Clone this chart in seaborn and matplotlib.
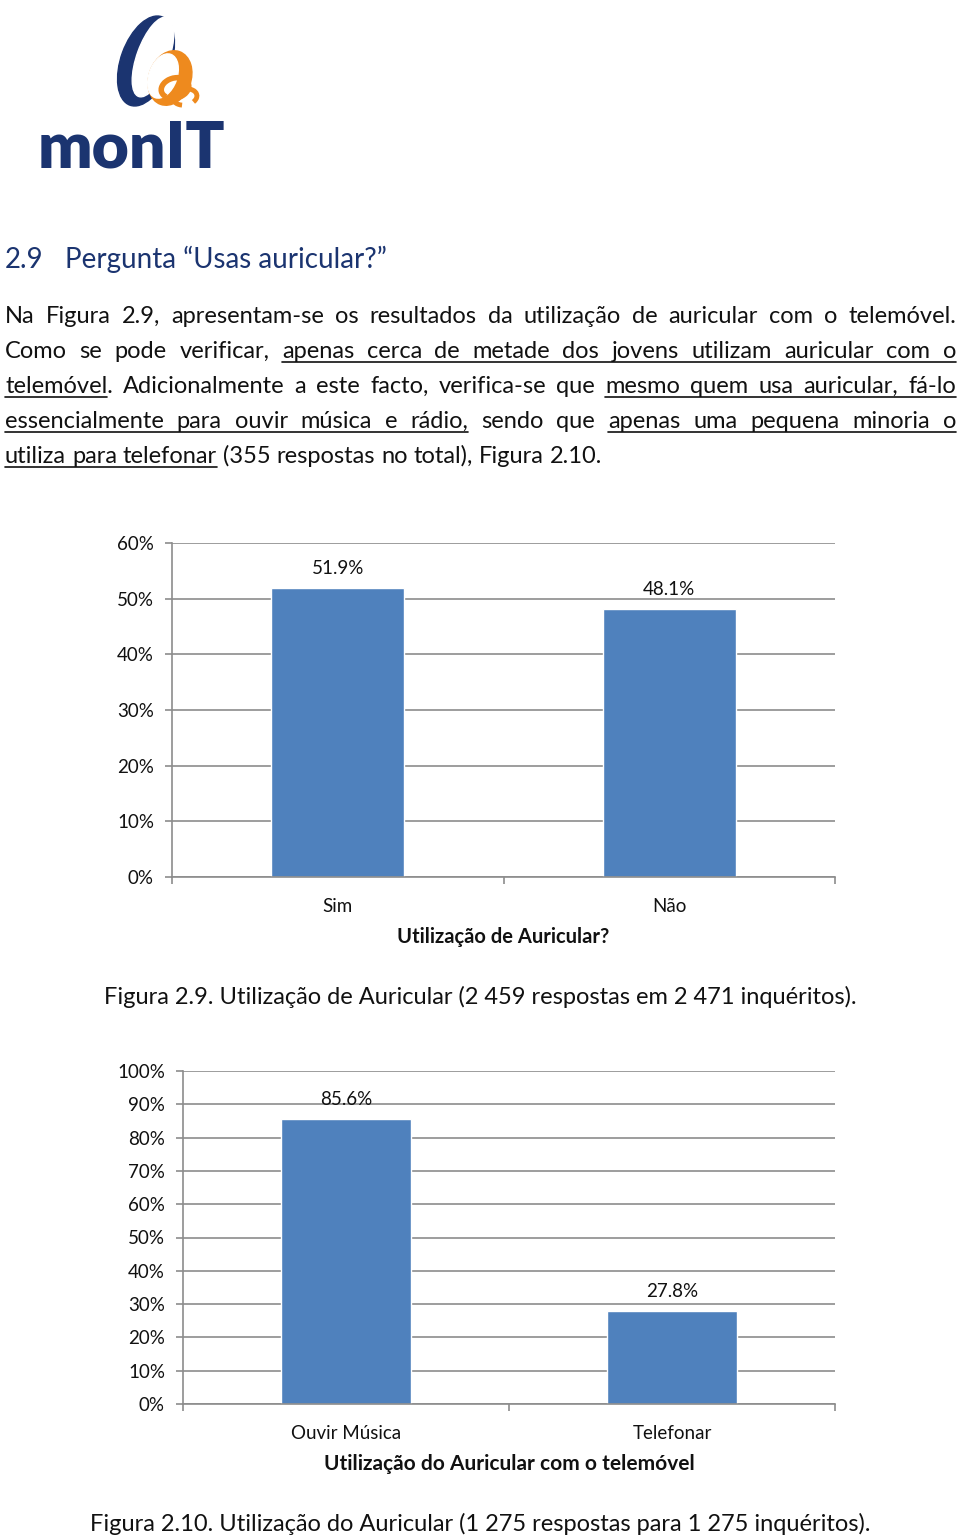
import matplotlib
matplotlib.use("Agg")
import matplotlib.pyplot as plt
import seaborn as sns
import pandas as pd
from matplotlib.patches import Ellipse, Arc
from matplotlib.lines import Line2D

sns.set_theme(style="white")
plt.rcParams['font.family'] = ['Lato', 'DejaVu Sans']

# ---------------- data ----------------
cats1 = ["Sim", "Não"]
vals1 = [51.9, 48.1]
yticks1 = [0, 10, 20, 30, 40, 50, 60]
xlabel1 = "Utilização de Auricular?"
caption1 = "Figura 2.9. Utilização de Auricular (2 459 respostas em 2 471 inquéritos)."

cats2 = ["Ouvir Música", "Telefonar"]
vals2 = [85.6, 27.8]
yticks2 = [0, 10, 20, 30, 40, 50, 60, 70, 80, 90, 100]
xlabel2 = "Utilização do Auricular com o telemóvel"
caption2 = "Figura 2.10. Utilização do Auricular (1 275 respostas para 1 275 inquéritos)."

heading_num = "2.9"
heading_txt = "Pergunta “Usas auricular?”"
body_lines = [
    "Na Figura 2.9, apresentam-se os resultados da utilização de auricular com o telemóvel.",
    "Como se pode verificar, [apenas cerca de metade dos jovens utilizam auricular com o]",
    "[telemóvel]. Adicionalmente a este facto, verifica-se que [mesmo quem usa auricular, fá-lo]",
    "[essencialmente para ouvir música e rádio,] sendo que [apenas uma pequena minoria o]",
    "[utiliza para telefonar] (355 respostas no total), Figura 2.10.",
]

BAR = "#4F81BD"
GRID = "#8C8C8C"
NAVY = "#1B3470"
ORANGE = "#EE8A1E"
TXT = "#111111"

W, H = 960, 1536
fig = plt.figure(figsize=(9.6, 15.36), dpi=100)
fig.patch.set_facecolor("white")
renderer = fig.canvas.get_renderer()


def fx(x):
    return x / W


def fy(y):
    return 1 - y / H


def measure(s, **kw):
    if s == "":
        return 0.0
    t = fig.text(0, 0, s, **kw)
    w = t.get_window_extent(renderer).width
    t.remove()
    return w


# ---------------- logo ----------------
lax = fig.add_axes([fx(20), fy(190), 230 / W, 190 / H])
lax.set_xlim(20, 250)
lax.set_ylim(190, 0)
lax.axis("off")
lax.add_patch(Ellipse((146, 61), 50, 94, angle=20, color=NAVY))
lax.add_patch(Ellipse((153, 57), 32, 84, angle=20, color="white"))
lax.add_patch(Ellipse((170, 78), 42, 56, angle=20, color=ORANGE))
lax.add_patch(Ellipse((163, 76), 28, 46, angle=20, color="white"))
lax.add_patch(Arc((175, 88), 28, 20, angle=-15, theta1=150, theta2=470, color=ORANGE, lw=4))
lax.add_patch(Arc((185, 97), 24, 16, angle=-10, theta1=120, theta2=400, color=ORANGE, lw=3.5))
logo_kw = dict(fontsize=60, fontweight="heavy", color=NAVY, family=["Lato", "DejaVu Sans"])
lw_ = measure("monIT", **logo_kw)
logo_kw["fontsize"] = 60 * 188 / lw_
fig.text(fx(38), fy(168), "monIT", ha="left", va="baseline", **logo_kw)

# ---------------- heading ----------------
fig.text(fx(5), fy(268), heading_num, fontsize=20, color=NAVY, va="baseline")
fig.text(fx(65), fy(268), heading_txt, fontsize=20, color=NAVY, va="baseline")

# ---------------- body text (justified) ----------------
body_kw = dict(fontsize=17, color=TXT)
LEFT, RIGHT = 5, 956
base = 323
space_w = measure("a a", **body_kw) - measure("aa", **body_kw)
for li, line in enumerate(body_lines):
    yb = base + li * 35
    tokens = line.split(" ")
    clean = [t.replace("[", "").replace("]", "") for t in tokens]
    widths = [measure(c, **body_kw) for c in clean]
    last = li == len(body_lines) - 1
    if last:
        gap = space_w
    else:
        gap = (RIGHT - LEFT - sum(widths)) / (len(tokens) - 1)
    x = LEFT
    ul_start = None
    for tok, c, w in zip(tokens, clean, widths):
        fig.text(fx(x), fy(yb), c, ha="left", va="baseline", **body_kw)
        pos = 0
        for ch in tok:
            if ch == "[":
                ul_start = x + measure(c[:pos], **body_kw)
            elif ch == "]":
                ul_end = x + measure(c[:pos], **body_kw)
                fig.add_artist(Line2D([fx(ul_start), fx(ul_end)], [fy(yb + 4), fy(yb + 4)],
                                      transform=fig.transFigure, color=TXT, lw=1.2))
                ul_start = None
            else:
                pos += 1
        x += w + gap


# ---------------- charts ----------------
def chart(rect, cats, vals, yticks, xlabel, title_size):
    ax = fig.add_axes(rect)
    df = pd.DataFrame({"cat": cats, "val": vals})
    sns.barplot(data=df, x="cat", y="val", color=BAR, saturation=1, width=0.4, ax=ax)
    ax.set_xlim(-0.5, 1.5)
    ax.set_ylim(0, yticks[-1])
    ax.set_yticks(yticks)
    ax.set_yticklabels([f"{t}%" for t in yticks])
    ax.yaxis.grid(True, color=GRID, lw=1.2)
    ax.set_axisbelow(True)
    for s in ["top", "right"]:
        ax.spines[s].set_visible(False)
    for s in ["left", "bottom"]:
        ax.spines[s].set_color(GRID)
        ax.spines[s].set_linewidth(1.2)
    ax.set_xticks([0, 1])
    ax.set_xticklabels(cats)
    ax.set_xticks([-0.5, 0.5, 1.5], minor=True)
    ax.tick_params(axis="x", which="major", length=0, pad=15, labelsize=13.5, labelcolor=TXT)
    ax.tick_params(axis="x", which="minor", length=5, width=1.2, color=GRID, direction="out", bottom=True)
    ax.tick_params(axis="y", which="major", length=5, width=1.2, color=GRID, direction="out",
                   left=True, pad=8, labelsize=13.5, labelcolor=TXT)
    ax.set_xlabel(xlabel, fontsize=title_size, fontweight="bold", color=TXT, labelpad=9)
    ax.set_ylabel("")
    ax.bar_label(ax.containers[0], labels=[f"{v}%" for v in vals], padding=8, fontsize=13.5, color=TXT)
    return ax


chart([fx(172), fy(877), (835 - 172) / W, (877 - 543) / H], cats1, vals1, yticks1, xlabel1, 14.5)
fig.text(fx(480), fy(1004), caption1, ha="center", va="baseline", fontsize=17, color=TXT)

chart([fx(183), fy(1404), (835 - 183) / W, (1404 - 1071) / H], cats2, vals2, yticks2, xlabel2, 15)
fig.text(fx(480), fy(1531), caption2, ha="center", va="baseline", fontsize=17, color=TXT)

fig.savefig("out.png", dpi=100, facecolor="white")
